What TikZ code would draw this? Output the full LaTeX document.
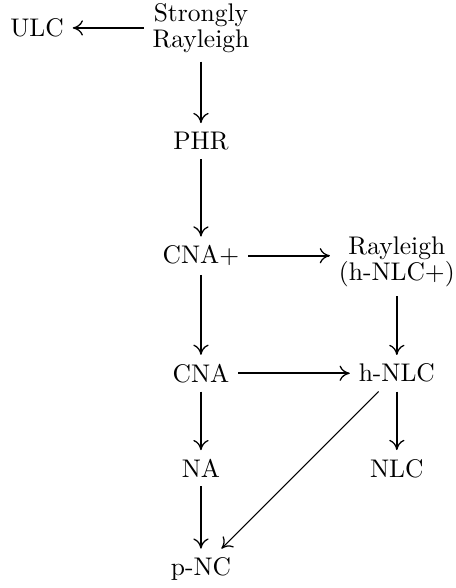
\documentclass[tikz,border=0pt]{standalone}
\usetikzlibrary{arrows.meta}
\begin{document}
\begin{tikzpicture}[>={To[length=4pt, width=6pt, line width=0.5pt]}, every node/.style={align=center, font=\fontsize{10}{10.2}\selectfont}, imp/.style={->, thick}]
\useasboundingbox (0,0) rectangle (6.285,8.105);
\node (ulc) at (0.51,7.72) {ULC};
\node (sr) at (2.77,7.72) {Strongly\\Rayleigh};
\node (phr) at (2.77,6.16) {PHR};
\node (cnaplus) at (2.77,4.58) {CNA+};
\node (ray) at (5.47,4.49) {Rayleigh\\(h-NLC+)};
\node (cna) at (2.77,2.96) {CNA};
\node (hnlc) at (5.47,2.96) {h-NLC};
\node (na) at (2.77,1.65) {NA};
\node (nlc) at (5.47,1.65) {NLC};
\node (pnc) at (2.77,0.26) {p-NC};
\draw[imp] (sr) -- (ulc);
\draw[imp] (sr) -- (phr);
\draw[imp] (phr) -- (cnaplus);
\draw[imp] (cnaplus) -- (cnaplus -| ray.west);
\draw[imp] (cnaplus) -- (cna);
\draw[imp] (ray) -- (hnlc);
\draw[imp] (cna) -- (hnlc);
\draw[imp] (cna) -- (na);
\draw[imp] (hnlc) -- (nlc);
\draw[imp] (na) -- (pnc);
\draw[->, thin] (hnlc) -- (pnc);
\end{tikzpicture}
\end{document}
